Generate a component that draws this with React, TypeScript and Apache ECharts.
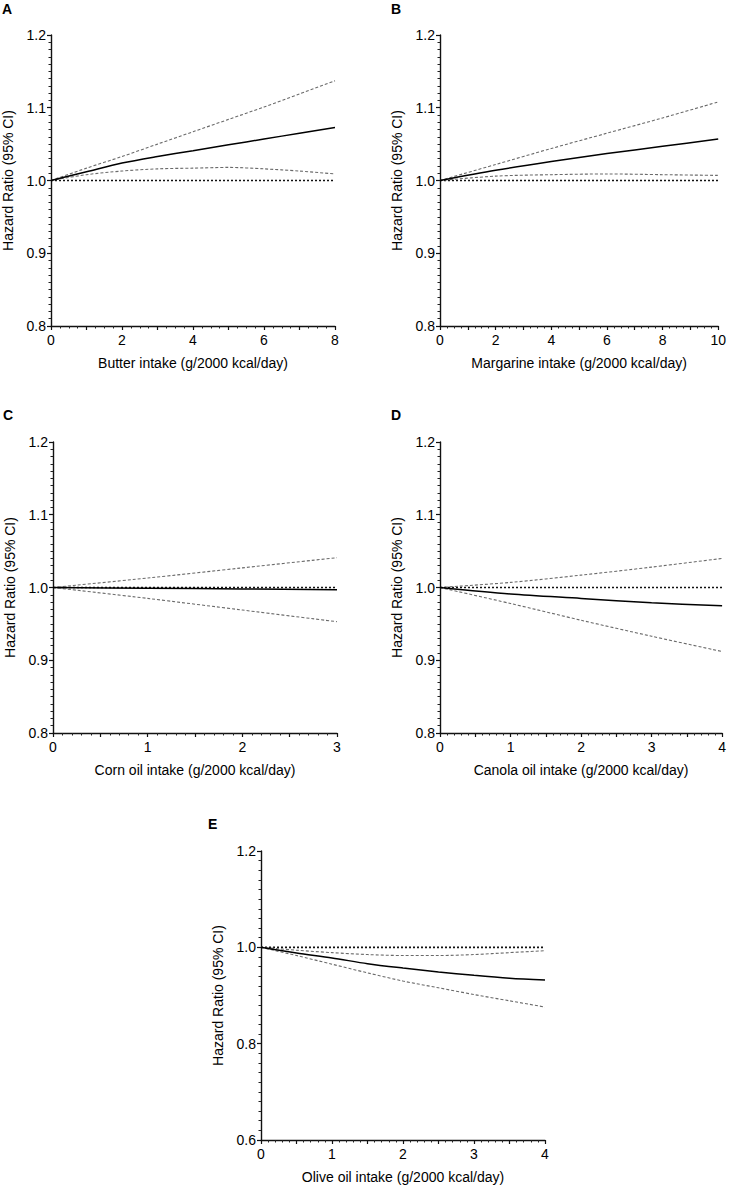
import React, { useEffect, useRef } from "react";
import * as echarts from "echarts";

// Panel A: Butter
const xA = [0, 1, 2, 3, 4, 5, 6, 7, 8];
const hrA = [1, 1.012, 1.024, 1.033, 1.041, 1.049, 1.057, 1.065, 1.073];
const upA = [1, 1.017, 1.033, 1.05, 1.067, 1.084, 1.101, 1.119, 1.137];
const loA = [1, 1.008, 1.013, 1.016, 1.017, 1.018, 1.016, 1.013, 1.009];

// Panel B: Margarine
const xB = [0, 2, 4, 6, 8, 10];
const hrB = [1, 1.014, 1.026, 1.037, 1.047, 1.057];
const upB = [1, 1.022, 1.044, 1.065, 1.086, 1.108];
const loB = [1, 1.006, 1.008, 1.009, 1.008, 1.007];

// Panel C: Corn oil
const xC = [0, 1, 2, 3];
const hrC = [1, 0.999, 0.998, 0.997];
const upC = [1, 1.013, 1.027, 1.041];
const loC = [1, 0.985, 0.969, 0.953];

// Panel D: Canola oil
const xD = [0, 1, 2, 3, 4];
const hrD = [1, 0.991, 0.985, 0.979, 0.975];
const upD = [1, 1.007, 1.017, 1.028, 1.04];
const loD = [1, 0.978, 0.955, 0.933, 0.912];

// Panel E: Olive oil
const xE = [0, 0.5, 1, 1.5, 2, 2.5, 3, 3.5, 4];
const hrE = [1, 0.988, 0.978, 0.966, 0.957, 0.949, 0.942, 0.936, 0.932];
const upE = [1, 0.994, 0.989, 0.985, 0.983, 0.983, 0.985, 0.989, 0.993];
const loE = [1, 0.983, 0.965, 0.947, 0.93, 0.916, 0.902, 0.889, 0.876];

const letters = ["A", "B", "C", "D", "E"];
const xTitles = [
  "Butter intake (g/2000 kcal/day)",
  "Margarine intake (g/2000 kcal/day)",
  "Corn oil intake (g/2000 kcal/day)",
  "Canola oil intake (g/2000 kcal/day)",
  "Olive oil intake (g/2000 kcal/day)",
];
const yTitle = "Hazard Ratio (95% CI)";
const xMax = [8, 10, 3, 4, 4];
const xTickStep = [1, 1, 0.5, 0.5, 0.5];
const xLabelStep = [2, 2, 1, 1, 1];
const xMinorSplit = [4, 4, 5, 5, 5];
const yMin = [0.8, 0.8, 0.8, 0.8, 0.6];
const yMax = [1.2, 1.2, 1.2, 1.2, 1.2];
const yStep = [0.1, 0.1, 0.1, 0.1, 0.2];

const panels = [
  { x: xA, hr: hrA, up: upA, lo: loA },
  { x: xB, hr: hrB, up: upB, lo: loB },
  { x: xC, hr: hrC, up: upC, lo: loC },
  { x: xD, hr: hrD, up: upD, lo: loD },
  { x: xE, hr: hrE, up: upE, lo: loE },
];

const FONT = "'Liberation Sans', Arial, sans-serif";

export default function App() {
  const ref = useRef<HTMLDivElement>(null);
  useEffect(() => {
    if (!ref.current) return;
    const chart = echarts.init(ref.current, undefined, { renderer: "svg" });

    const grids = [
      { left: 50, top: 35, width: 285, height: 291 },
      { left: 440, top: 35, width: 283, height: 291 },
      { left: 53, top: 442, width: 284, height: 291 },
      { left: 440, top: 442, width: 285, height: 291 },
      { left: 261, top: 851, width: 284, height: 289 },
    ];
    const letterPos = [
      [2, 2],
      [391, 2],
      [3, 408],
      [391, 408],
      [208, 817],
    ];

    const axisLine = { lineStyle: { color: "#111", width: 1.4 } };
    const xAxes: any[] = [];
    const yAxes: any[] = [];
    const series: any[] = [];

    panels.forEach((p, i) => {
      const lbStep = xLabelStep[i];
      xAxes.push({
        type: "value",
        gridIndex: i,
        min: 0,
        max: xMax[i],
        interval: xTickStep[i],
        name: xTitles[i],
        nameLocation: "middle",
        nameGap: 30,
        nameTextStyle: { fontFamily: FONT, fontSize: 14, color: "#000" },
        axisLine,
        axisTick: { show: true, length: 4, lineStyle: { color: "#111", width: 1.2 } },
        minorTick: { show: true, splitNumber: xMinorSplit[i], length: 2.5, lineStyle: { color: "#222", width: 1 } },
        splitLine: { show: false },
        axisLabel: {
          fontFamily: FONT,
          fontSize: 14,
          color: "#000",
          margin: 7,
          formatter: (v: number) => {
            const r = v / lbStep;
            return Math.abs(r - Math.round(r)) < 1e-6 ? String(Math.round(v)) : "";
          },
        },
      });
      yAxes.push({
        type: "value",
        gridIndex: i,
        min: yMin[i],
        max: yMax[i],
        interval: yStep[i],
        name: yTitle,
        nameLocation: "middle",
        nameGap: 36,
        nameTextStyle: { fontFamily: FONT, fontSize: 14, color: "#000" },
        axisLine,
        axisTick: { show: true, length: 4, lineStyle: { color: "#111", width: 1.2 } },
        minorTick: { show: true, splitNumber: 10, length: 2.5, lineStyle: { color: "#222", width: 1 } },
        splitLine: { show: false },
        axisLabel: {
          fontFamily: FONT,
          fontSize: 14,
          color: "#000",
          margin: 5,
          formatter: (v: number) => v.toFixed(1),
        },
      });
      const zip = (ys: number[]) => p.x.map((x, k) => [x, ys[k]]);
      series.push({
        type: "line",
        xAxisIndex: i,
        yAxisIndex: i,
        data: [
          [0, 1],
          [xMax[i], 1],
        ],
        showSymbol: false,
        lineStyle: { color: "#111", width: 1.6, type: [2, 2] },
        silent: true,
      });
      series.push({
        type: "line",
        xAxisIndex: i,
        yAxisIndex: i,
        data: zip(p.up),
        smooth: 0.3,
        showSymbol: false,
        lineStyle: { color: "#6a6a6a", width: 1.1, type: [3, 2] },
      });
      series.push({
        type: "line",
        xAxisIndex: i,
        yAxisIndex: i,
        data: zip(p.lo),
        smooth: 0.3,
        showSymbol: false,
        lineStyle: { color: "#6a6a6a", width: 1.1, type: [3, 2] },
      });
      series.push({
        type: "line",
        xAxisIndex: i,
        yAxisIndex: i,
        data: zip(p.hr),
        smooth: 0.3,
        showSymbol: false,
        lineStyle: { color: "#000", width: 1.5 },
      });
    });

    chart.setOption({
      animation: false,
      backgroundColor: "#fff",
      grid: grids,
      xAxis: xAxes,
      yAxis: yAxes,
      series,
      graphic: letters.map((t, i) => ({
        type: "text",
        left: letterPos[i][0],
        top: letterPos[i][1],
        style: { text: t, fontFamily: FONT, fontSize: 14, fontWeight: "bold", fill: "#000" },
      })),
    });
    return () => chart.dispose();
  }, []);
  return (
    <div
      ref={ref}
      style={{ position: "absolute", left: 0, top: 0, width: 729, height: 1188, background: "#fff" }}
    />
  );
}
